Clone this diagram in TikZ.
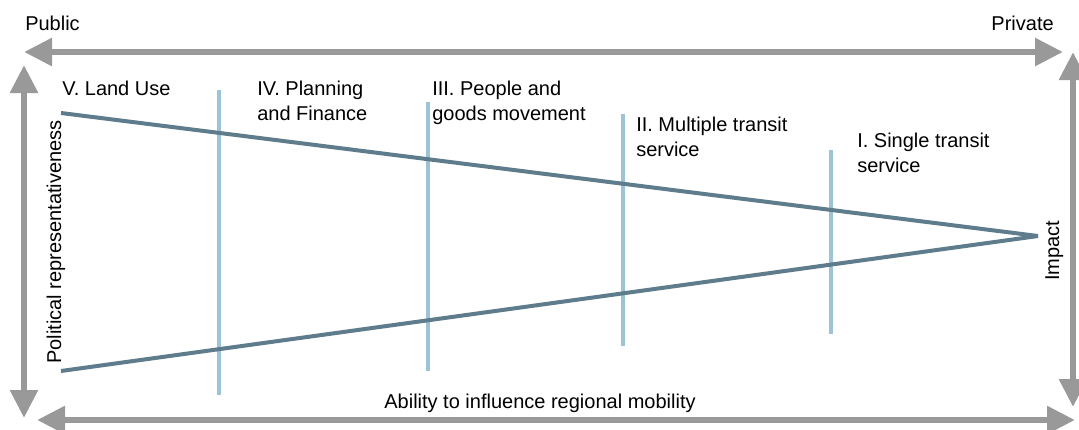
\documentclass[tikz,border=0pt]{standalone}
\usepackage{fontspec}
\setmainfont{Liberation Sans}
\usetikzlibrary{positioning,arrows.meta}
\definecolor{axisgray}{HTML}{999999}
\definecolor{wedgeblue}{HTML}{5E7C8B}
\definecolor{levelblue}{HTML}{9DC3D6}
\tikzset{
	axis/.style={draw=axisgray,line width=5pt,{Triangle[length=21pt,width=20pt]}-{Triangle[length=21pt,width=20pt]}},
	wedge/.style={draw=wedgeblue,line width=3pt},
	level/.style={draw=levelblue,line width=3.2pt},
	lbl/.style={inner sep=0pt,font=\fontsize{15}{18.75}\selectfont,align=left}
}
\begin{document}
\begin{tikzpicture}[x=0.75pt,y=-0.75pt]
		\useasboundingbox (0,0) rectangle (1079,429);
		% axes
		\coordinate (pubend) at (24,52);
		\coordinate (privend) at (1063,52);
		\coordinate (reptop) at (24,65);
		\coordinate (repbot) at (24,418);
		\coordinate (ablleft) at (37,420);
		\coordinate (ablright) at (1075,420);
		\coordinate (imptop) at (1073,52);
		\coordinate (impbot) at (1073,407);
		\draw[axis](pubend)--(privend);
		\draw[axis](reptop)--(repbot);
		\draw[axis](ablleft)--(ablright);
		\draw[axis](imptop)--(impbot);
		% levels
		\coordinate (lvfivetop) at (219,90);
		\coordinate (lvfivebot) at (219,395);
		\coordinate (lvfourtop) at (428,102);
		\coordinate (lvfourbot) at (428,371);
		\coordinate (lvthreetop) at (623,114);
		\coordinate (lvthreebot) at (623,346);
		\coordinate (lvtwotop) at (831,150);
		\coordinate (lvtwobot) at (831,334);
		\draw[level](lvfivetop)--(lvfivebot);
		\draw[level](lvfourtop)--(lvfourbot);
		\draw[level](lvthreetop)--(lvthreebot);
		\draw[level](lvtwotop)--(lvtwobot);
		% wedge
		\coordinate (wtop) at (61,113);
		\coordinate (wbot) at (61,371);
		\coordinate (apex) at (1038,236);
		\draw[wedge](wtop)--(apex);
		\draw[wedge](wbot)--(apex);
		% labels
		\node (public) at (25,30) [lbl,anchor=base west]{Public};
		\node (private) at (1054,30) [lbl,anchor=base east]{Private};
		\node (landuse) at (62,81) [lbl,anchor=north west]{V. Land Use};
		\node (planning) at (257,81) [lbl,anchor=north west]{IV. Planning\\and Finance};
		\node (people) at (432,81) [lbl,anchor=north west]{III. People and\\goods movement};
		\node (multiple) at (636,117) [lbl,anchor=north west]{II. Multiple transit\\service};
		\node (single) at (857,133) [lbl,anchor=north west]{I. Single transit\\service};
		\node (political) at (61,364) [lbl,anchor=base west,rotate=90]{Political representativeness};
		\node (impact) at (1059,281) [lbl,anchor=base west,rotate=90]{Impact};
		\node (ability) at (540,408) [lbl,anchor=base]{Ability to influence regional mobility};
	\end{tikzpicture}
\end{document}
